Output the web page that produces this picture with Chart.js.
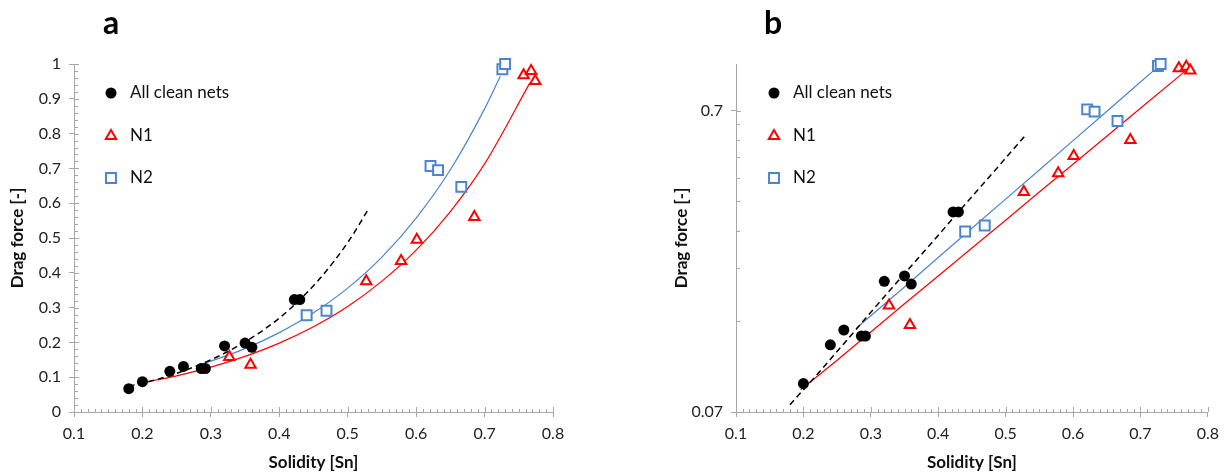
<!DOCTYPE html>
<html lang="en">
<head>
  <meta charset="UTF-8" />
  <title>Drag force vs solidity</title>
  <script src="https://cdn.jsdelivr.net/npm/chart.js"></script>
  <style>
    body { margin: 0; background: #fff; font-family: Lato, sans-serif; }
    .wrap { position: relative; width: 1226px; height: 473px; overflow: hidden; }
    .panel { position: absolute; top: 0; width: 613px; height: 473px; }
    .tag { position: absolute; top: 2px; font: bold 32px Lato, sans-serif; color: #000; }
  </style>
</head>
<body>
  <div class="wrap">
    <div class="panel" style="left:0"><canvas id="chartA" width="613" height="473"></canvas></div>
    <div class="panel" style="left:613px"><canvas id="chartB" width="613" height="473"></canvas></div>
    <div class="tag" style="left:103px">a</div>
    <div class="tag" style="left:764px">b</div>
  </div>

  <script>
    // measured points
    const solidityClean = [0.18, 0.20, 0.24, 0.26, 0.286, 0.292, 0.32, 0.35, 0.36, 0.422, 0.43];
    const dragClean     = [0.067, 0.087, 0.117, 0.131, 0.125, 0.125, 0.19, 0.198, 0.186, 0.323, 0.323];
    const solidityN1 = [0.327, 0.358, 0.527, 0.578, 0.601, 0.685, 0.757, 0.768, 0.774];
    const dragN1     = [0.158, 0.136, 0.376, 0.434, 0.495, 0.560, 0.968, 0.980, 0.951];
    const solidityN2 = [0.440, 0.469, 0.621, 0.632, 0.666, 0.726, 0.730];
    const dragN2     = [0.278, 0.291, 0.707, 0.695, 0.647, 0.985, 1.000];

    // trend lines
    const fitCleanX = [0.18, 0.22, 0.26, 0.30, 0.34, 0.38, 0.42, 0.46, 0.50, 0.531];
    const fitCleanY = [0.074, 0.093, 0.118, 0.150, 0.190, 0.240, 0.304, 0.385, 0.487, 0.585];
    const fitN1X = [0.196, 0.25, 0.30, 0.35, 0.40, 0.45, 0.50, 0.55, 0.60, 0.65, 0.70, 0.766];
    const fitN1Y = [0.083, 0.104, 0.129, 0.160, 0.198, 0.245, 0.303, 0.376, 0.465, 0.576, 0.713, 0.945];
    const fitN2X = [0.279, 0.30, 0.35, 0.40, 0.45, 0.50, 0.55, 0.60, 0.65, 0.70, 0.723];
    const fitN2Y = [0.133, 0.146, 0.182, 0.228, 0.285, 0.356, 0.445, 0.557, 0.696, 0.871, 0.965];

    const xTicks  = [0.1, 0.2, 0.3, 0.4, 0.5, 0.6, 0.7, 0.8];
    const yTicksA = [0, 0.1, 0.2, 0.3, 0.4, 0.5, 0.6, 0.7, 0.8, 0.9, 1];
    const yTicksB = [0.07, 0.7];

    const FONT = 'Lato, sans-serif';
    const AXIS = '#a6a6a6';
    const RED = '#ff0000';
    const BLUE = '#4a85cf';

    const pts = (xs, ys) => xs.map((x, i) => ({ x: x, y: ys[i] }));

    function makeDatasets(curved) {
      const clip = { left: 10, right: 10, top: 10, bottom: 0 };
      return [
        { type: 'scatter', label: 'All clean nets', inLegend: true, data: pts(solidityClean, dragClean),
          pointStyle: 'circle', pointRadius: 5.5, backgroundColor: '#000', borderColor: '#000', borderWidth: 0, clip },
        { type: 'scatter', label: 'N1', inLegend: true, data: pts(solidityN1, dragN1),
          pointStyle: 'triangle', pointRadius: 6, backgroundColor: '#fff', borderColor: RED, borderWidth: 2, clip },
        { type: 'scatter', label: 'N2', inLegend: true, data: pts(solidityN2, dragN2),
          pointStyle: 'rect', pointRadius: 7, backgroundColor: '#fff', borderColor: BLUE, borderWidth: 2, clip },
        { type: 'line', label: 'fit clean', data: pts(fitCleanX, fitCleanY), borderColor: '#000', borderWidth: 1.5,
          borderDash: [6, 4], pointRadius: 0, fill: false, tension: curved ? 0.4 : 0, cubicInterpolationMode: curved ? 'monotone' : 'default', clip },
        { type: 'line', label: 'fit N1', data: pts(fitN1X, fitN1Y), borderColor: RED, borderWidth: 1.2,
          pointRadius: 0, fill: false, tension: curved ? 0.4 : 0, cubicInterpolationMode: curved ? 'monotone' : 'default', clip },
        { type: 'line', label: 'fit N2', data: pts(fitN2X, fitN2Y), borderColor: BLUE, borderWidth: 1.2,
          pointRadius: 0, fill: false, tension: curved ? 0.4 : 0, cubicInterpolationMode: curved ? 'monotone' : 'default', clip }
      ];
    }

    // small Excel-style minor ticks on the inside of both axes
    const minorTicks = {
      id: 'minorTicks',
      afterDraw(chart, args, o) {
        const { ctx, chartArea: a, scales: { x, y } } = chart;
        ctx.save();
        ctx.strokeStyle = AXIS;
        ctx.lineWidth = 1;
        ctx.beginPath();
        for (let i = 10; i <= 80; i++) {
          const px = Math.round(x.getPixelForValue(i / 100)) + 0.5;
          const len = i % 10 === 0 ? 5 : 3;
          ctx.moveTo(px, a.bottom);
          ctx.lineTo(px, a.bottom - len);
        }
        o.yMinor.forEach(v => {
          const py = Math.round(y.getPixelForValue(v)) + 0.5;
          ctx.moveTo(a.left, py);
          ctx.lineTo(a.left + 4, py);
        });
        o.yMajor.forEach(v => {
          const py = Math.round(y.getPixelForValue(v)) + 0.5;
          ctx.moveTo(a.left, py);
          ctx.lineTo(a.left + 5, py);
        });
        ctx.stroke();
        ctx.restore();
      }
    };

    const cornerLegend = {
      id: 'cornerLegend',
      afterDraw(chart, args, o) {
        const ctx = chart.ctx;
        ctx.save();
        chart.data.datasets.filter(d => d.inLegend).forEach((d, i) => {
          const y = o.rows[i];
          ctx.fillStyle = d.backgroundColor;
          ctx.strokeStyle = d.borderColor;
          ctx.lineWidth = d.borderWidth;
          Chart.helpers.drawPoint(ctx, { pointStyle: d.pointStyle, radius: d.pointRadius, rotation: 0, borderWidth: d.borderWidth }, o.markX, y);
          ctx.fillStyle = '#111';
          ctx.font = '17px ' + FONT;
          ctx.textBaseline = 'middle';
          ctx.textAlign = 'left';
          ctx.fillText(d.label, o.textX, y);
        });
        ctx.restore();
      }
    };

    function xScale() {
      return {
        type: 'linear', min: 0.1, max: 0.8,
        afterBuildTicks: s => { s.ticks = xTicks.map(v => ({ value: v })); },
        afterFit: s => { s.height = 61; },
        grid: { drawOnChartArea: false, tickLength: 5, color: AXIS, tickColor: AXIS },
        border: { color: AXIS, width: 1 },
        ticks: { padding: 7, color: '#222', font: { family: FONT, size: 16 }, maxRotation: 0, callback: v => String(v) },
        title: { display: true, text: 'Solidity [Sn]', color: '#111', font: { family: FONT, size: 17, weight: 'bold' }, padding: { top: 0, bottom: 0 } }
      };
    }

    function yTitle() {
      return { display: true, text: 'Drag force [-]', color: '#111', font: { family: FONT, size: 17, weight: 'bold' }, padding: { top: 7, bottom: 0 } };
    }

    const yMinorA = [];
    for (let i = 0; i <= 50; i++) if (i % 5 !== 0) yMinorA.push(i / 50);
    const yMinorB = [0.14, 0.21, 0.28, 0.35, 0.42, 0.49, 0.56, 0.63];

    new Chart(document.getElementById('chartA'), {
      data: { datasets: makeDatasets(true) },
      options: {
        responsive: false,
        animation: false,
        layout: { padding: { left: 0, right: 60, top: 64, bottom: 0 } },
        scales: {
          x: xScale(),
          y: {
            type: 'linear', min: 0, max: 1,
            afterBuildTicks: s => { s.ticks = yTicksA.map(v => ({ value: v })); },
            afterFit: s => { s.width = 74; },
            grid: { drawOnChartArea: false, tickLength: 5, color: AXIS, tickColor: AXIS },
            border: { color: AXIS, width: 1 },
            ticks: { padding: 8, color: '#222', font: { family: FONT, size: 16 }, callback: v => String(v) },
            title: yTitle()
          }
        },
        plugins: {
          legend: { display: false },
          tooltip: { enabled: false },
          minorTicks: { yMinor: yMinorA, yMajor: yTicksA },
          cornerLegend: { markX: 111, textX: 130, rows: [93, 136, 178] }
        }
      },
      plugins: [minorTicks, cornerLegend]
    });

    new Chart(document.getElementById('chartB'), {
      data: { datasets: makeDatasets(false) },
      options: {
        responsive: false,
        animation: false,
        layout: { padding: { left: 51, right: 11, top: 64, bottom: 0 } },
        scales: {
          x: xScale(),
          y: {
            type: 'logarithmic', min: 0.07, max: 1,
            afterBuildTicks: s => { s.ticks = yTicksB.map(v => ({ value: v })); },
            afterFit: s => { s.width = 72; },
            grid: { drawOnChartArea: false, tickLength: 5, color: AXIS, tickColor: AXIS },
            border: { color: AXIS, width: 1 },
            ticks: { padding: 8, color: '#222', font: { family: FONT, size: 16 }, callback: v => String(v) },
            title: yTitle()
          }
        },
        plugins: {
          legend: { display: false },
          tooltip: { enabled: false },
          minorTicks: { yMinor: yMinorB, yMajor: yTicksB },
          cornerLegend: { markX: 161, textX: 180, rows: [93, 136, 178] }
        }
      },
      plugins: [minorTicks, cornerLegend]
    });
  </script>
</body>
</html>
